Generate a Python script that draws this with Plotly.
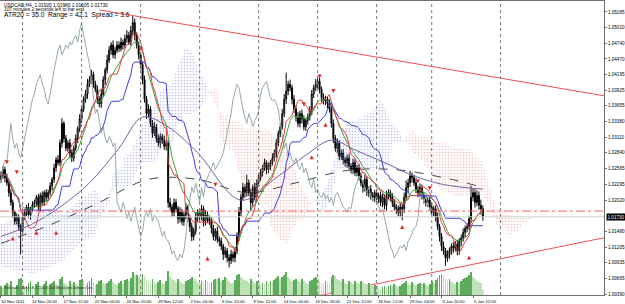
import numpy as np
import pandas as pd
import plotly.graph_objects as go

# ---------------- data ----------------
symbol_header = "USDCAD,H4  1.01920 1.01980 1.01605 1.01730"
timer_text = "107 minutes 2 seconds left to bar end"
stats_text = "ATR20 = 35.0  Range = 42.1  Spread = 3.6"
copyright_text = "MetaTrader - Alpari UK, (C) 2001-2011 MetaQuotes Software Corp."

first_open = 1.0238
close = [
    1.0244, 1.0255, 1.0241, 1.0232, 1.0215, 1.0198, 1.0181, 1.0165, 1.0173, 1.0156, 1.0148, 1.0173,
    1.0181, 1.0190, 1.0176, 1.0187, 1.0194, 1.0198, 1.0207, 1.0190, 1.0210, 1.0198, 1.0215, 1.0207,
    1.0215, 1.0227, 1.0238, 1.0258, 1.0272, 1.0267, 1.0301, 1.0335, 1.0309, 1.0292, 1.0301, 1.0284,
    1.0275, 1.0292, 1.0309, 1.0326, 1.0343, 1.0360, 1.0377, 1.0386, 1.0403, 1.0411, 1.0420, 1.0403,
    1.0394, 1.0377, 1.0369, 1.0386, 1.0411, 1.0428, 1.0445, 1.0462, 1.0471, 1.0454, 1.0462, 1.0471,
    1.0465, 1.0476, 1.0471, 1.0482, 1.0488, 1.0476, 1.0496, 1.0510, 1.0488, 1.0471, 1.0454, 1.0437,
    1.0411, 1.0377, 1.0352, 1.0360, 1.0335, 1.0318, 1.0329, 1.0309, 1.0301, 1.0312, 1.0306, 1.0295,
    1.0301, 1.0198, 1.0190, 1.0181, 1.0198, 1.0187, 1.0170, 1.0181, 1.0165, 1.0176, 1.0190, 1.0170,
    1.0156, 1.0139, 1.0148, 1.0173, 1.0181, 1.0173, 1.0187, 1.0165, 1.0176, 1.0170, 1.0165, 1.0153,
    1.0139, 1.0148, 1.0134, 1.0131, 1.0122, 1.0108, 1.0114, 1.0102, 1.0097, 1.0108, 1.0102, 1.0114,
    1.0139, 1.0181, 1.0207, 1.0224, 1.0215, 1.0232, 1.0215, 1.0198, 1.0224, 1.0207, 1.0232, 1.0241,
    1.0250, 1.0258, 1.0267, 1.0255, 1.0261, 1.0267, 1.0275, 1.0284, 1.0301, 1.0318, 1.0329, 1.0352,
    1.0377, 1.0391, 1.0403, 1.0397, 1.0377, 1.0360, 1.0346, 1.0335, 1.0352, 1.0343, 1.0329, 1.0340,
    1.0346, 1.0357, 1.0386, 1.0397, 1.0403, 1.0408, 1.0394, 1.0380, 1.0374, 1.0377, 1.0369, 1.0360,
    1.0335, 1.0309, 1.0292, 1.0301, 1.0278, 1.0284, 1.0272, 1.0267, 1.0275, 1.0261, 1.0255, 1.0267,
    1.0250, 1.0258, 1.0244, 1.0232, 1.0224, 1.0238, 1.0215, 1.0221, 1.0210, 1.0207, 1.0215, 1.0204,
    1.0210, 1.0198, 1.0207, 1.0193, 1.0210, 1.0215, 1.0207, 1.0198, 1.0190, 1.0187, 1.0181, 1.0190,
    1.0187, 1.0207, 1.0224, 1.0232, 1.0244, 1.0241, 1.0232, 1.0221, 1.0215, 1.0224, 1.0210, 1.0204,
    1.0198, 1.0202, 1.0190, 1.0181, 1.0187, 1.0173, 1.0156, 1.0139, 1.0122, 1.0114, 1.0102, 1.0108,
    1.0114, 1.0122, 1.0119, 1.0125, 1.0114, 1.0131, 1.0136, 1.0146, 1.0153, 1.0156, 1.0170, 1.0207,
    1.0215, 1.0198, 1.0210, 1.0193, 1.0187, 1.0173,
]
upper_wick_pips = [
    8, 6, 5, 7, 4, 6, 5, 3, 6, 4, 5, 8,
    5, 4, 7, 3, 6, 5, 4, 6, 5, 7, 4, 6,
    5, 6, 4, 7, 5, 8, 6, 9, 4, 6, 5, 7,
    6, 5, 7, 4, 8, 6, 5, 7, 9, 6, 8, 5,
    6, 7, 5, 8, 6, 4, 9, 7, 5, 8, 6, 7,
    6, 8, 5, 7, 9, 6, 8, 11, 7, 5, 6, 4,
    5, 7, 6, 8, 5, 6, 9, 5, 7, 6, 5, 8,
    6, 4, 8, 5, 7, 6, 5, 9, 6, 5, 7, 4,
    5, 7, 6, 8, 5, 6, 7, 5, 9, 6, 5, 7,
    6, 5, 8, 5, 6, 4, 7, 5, 6, 8, 5, 6,
    7, 9, 6, 8, 5, 14, 6, 7, 5, 8, 6, 5,
    6, 5, 7, 4, 6, 5, 8, 6, 7, 5, 6, 8,
    9, 32, 6, 8, 5, 7, 6, 9, 5, 7, 6, 5,
    6, 8, 7, 5, 9, 8, 6, 5, 7, 6, 5, 8,
    5, 7, 6, 8, 5, 6, 7, 5, 6, 8, 5, 7,
    6, 5, 7, 6, 5, 8, 6, 5, 7, 6, 5, 6,
    5, 7, 6, 5, 8, 6, 5, 7, 6, 5, 6, 7,
    6, 8, 12, 7, 9, 6, 5, 8, 6, 7, 5, 6,
    7, 5, 6, 8, 5, 6, 7, 5, 6, 8, 5, 7,
    6, 5, 7, 6, 8, 5, 6, 7, 5, 6, 5, 20,
    8, 6, 9, 7, 10, 6,
]
lower_wick_pips = [
    6, 5, 8, 5, 7, 6, 9, 6, 5, 7, 40, 6,
    5, 7, 4, 8, 6, 5, 7, 6, 8, 5, 6, 7,
    6, 5, 8, 6, 7, 5, 6, 8, 7, 5, 6, 8,
    7, 6, 5, 8, 6, 7, 5, 6, 8, 5, 7, 6,
    5, 8, 6, 7, 5, 9, 6, 5, 8, 6, 7, 5,
    6, 5, 8, 6, 7, 5, 6, 7, 9, 6, 8, 7,
    8, 6, 9, 7, 6, 8, 5, 7, 6, 9, 7, 6,
    7, 9, 6, 8, 7, 6, 9, 7, 6, 8, 7, 6,
    9, 8, 7, 6, 8, 7, 6, 9, 7, 8, 6, 9,
    7, 8, 6, 9, 7, 10, 6, 8, 12, 6, 7, 8,
    6, 8, 7, 6, 9, 7, 6, 15, 7, 6, 8, 7,
    6, 7, 5, 8, 6, 7, 5, 6, 8, 6, 7, 5,
    6, 8, 7, 6, 9, 7, 8, 6, 7, 8, 6, 7,
    7, 6, 8, 7, 6, 9, 7, 8, 6, 7, 8, 6,
    7, 8, 6, 9, 7, 6, 8, 7, 9, 6, 7, 8,
    6, 7, 8, 6, 9, 7, 6, 8, 7, 6, 8, 7,
    7, 6, 8, 7, 9, 6, 7, 8, 6, 9, 7, 8,
    20, 7, 6, 8, 7, 9, 6, 7, 8, 6, 7, 8,
    7, 8, 6, 9, 7, 8, 6, 9, 8, 7, 14, 7,
    8, 7, 9, 6, 8, 7, 9, 6, 8, 7, 6, 8,
    7, 9, 6, 8, 10, 7,
]
tick_volume = [
    22, 18, 25, 30, 28, 35, 20, 16, 24, 38, 42, 26,
    18, 22, 30, 34, 25, 20, 28, 32, 24, 19, 27, 33,
    21, 26, 30, 35, 28, 24, 38, 45, 30, 26, 22, 34,
    28, 31, 26, 22, 36, 40, 33, 27, 29, 35, 41, 30,
    24, 28, 33, 37, 30, 26, 29, 35, 38, 31, 27, 24,
    30, 34, 28, 36, 39, 33, 42, 55, 48, 50, 44, 38,
    52, 46, 40, 35, 30, 38, 33, 28, 31, 36, 30, 27,
    33, 58, 45, 40, 36, 32, 38, 35, 30, 27, 33, 36,
    40, 44, 38, 34, 30, 28, 35, 32, 37, 33, 29, 31,
    36, 40, 38, 42, 35, 37, 44, 40, 33, 30, 29, 36,
    48, 52, 45, 40, 36, 34, 30, 38, 33, 29, 35, 31,
    28, 30, 26, 33, 29, 35, 31, 37, 42, 46, 40, 45,
    50, 55, 44, 38, 33, 36, 40, 35, 31, 38, 34, 30,
    28, 33, 37, 41, 45, 38, 33, 30, 28, 34, 31, 27,
    44, 50, 46, 40, 36, 33, 38, 30, 27, 34, 31, 28,
    33, 30, 27, 35, 31, 28, 26, 30, 24, 21, 25, 22,
    18, 15, 20, 23, 19, 22, 25, 21, 26, 24, 20, 23,
    27, 30, 34, 29, 25, 31, 28, 24, 27, 30, 26, 29,
    25, 22, 28, 33, 30, 36, 42, 48, 52, 46, 40, 35,
    38, 33, 30, 28, 32, 29, 35, 38, 42, 45, 50, 56,
    44, 38, 35, 32, 30, 12,
]

# Ichimoku cloud before enough history
early_cloud_bars = [0, 8, 16, 24, 32, 40, 48]
early_span_a = [1.0161, 1.0170, 1.0178, 1.0187, 1.0178, 1.0204, 1.0221]
early_span_b = [1.0087, 1.0080, 1.0075, 1.0084, 1.0098, 1.0127, 1.0144]

# slow moving averages
slow_ma_bars = [0, 25, 50, 75, 100, 125, 150, 175, 200, 225, 245]
slow_ma = [1.0127, 1.0159, 1.0198, 1.0238, 1.0238, 1.0215, 1.0232, 1.0253, 1.0255, 1.0241, 1.0224]
mid_ma_bars = [0, 15, 30, 45, 60, 72, 85, 100, 122, 140, 155, 168, 180, 195, 210, 225, 245]
mid_ma = [1.0139, 1.0159, 1.0190, 1.0232, 1.0292, 1.0346, 1.0329, 1.0284, 1.0202, 1.0241,
          1.0280, 1.0306, 1.0289, 1.0267, 1.0244, 1.0229, 1.0221]

# fractal markers
fractal_up_bars = [3, 8, 71, 109, 154, 162, 169, 212, 218]
fractal_up_price = [1.0264, 1.0247, 1.0461, 1.0225, 1.0365, 1.0413, 1.0388, 1.0231, 1.0219]
fractal_dn_bars = [6, 18, 28, 105, 158, 165, 204, 238]
fractal_dn_price = [1.0139, 1.0149, 1.0149, 1.0104, 1.0280, 1.0336, 1.0159, 1.0106]

# trend lines (bar, price end points)
trend_top_bars = [50, 310]
trend_top_price = [1.0532, 1.0381]
trend_bot_bars = [161, 310]
trend_bot_price = [1.0036, 1.0139]
level_dashdot = 1.0183
bid_price = 1.0173

week_start_bars = [11, 41, 71, 101, 131, 161, 191, 219, 254]
date_label_bars = [0, 16, 32, 48, 64, 80, 96, 112, 128, 144, 160, 176, 192, 208, 224, 240]
date_labels = ["10 Nov 2011", "14 Nov 20:00", "17 Nov 12:00", "22 Nov 04:00", "24 Nov 20:00",
               "29 Nov 12:00", "2 Dec 04:00", "6 Dec 20:00", "9 Dec 12:00", "14 Dec 04:00",
               "16 Dec 20:00", "21 Dec 12:00", "26 Dec 12:00", "29 Dec 04:00", "3 Jan 20:00",
               "5 Jan 12:00"]
price_ticks = [1.05285, 1.05010, 1.04740, 1.04470, 1.04195, 1.03925, 1.03655, 1.03380, 1.03110,
               1.02840, 1.02565, 1.02295, 1.02020, 1.01480, 1.01205, 1.00935, 1.00665, 1.00390]

# ---------------- derived series ----------------
n = min(len(close), len(upper_wick_pips), len(lower_wick_pips), len(tick_volume))
bars = np.arange(n)
c = np.array(close[:n])
o = np.r_[first_open, c[:-1]]
h = np.maximum(o, c) + np.array(upper_wick_pips[:n]) * 0.0001
l = np.minimum(o, c) - np.array(lower_wick_pips[:n]) * 0.0001
hs, ls = pd.Series(h), pd.Series(l)
tenkan = ((hs.rolling(9, min_periods=1).max() + ls.rolling(9, min_periods=1).min()) / 2).values
kijun = ((hs.rolling(26, min_periods=1).max() + ls.rolling(26, min_periods=1).min()) / 2).values
sa = (tenkan + kijun) / 2
sb = ((hs.rolling(52, min_periods=1).max() + ls.rolling(52, min_periods=1).min()) / 2).values
ema = pd.Series(c).ewm(span=12, adjust=False).mean().values

keep = bars >= 26
cx = list(early_cloud_bars) + list(bars[keep] + 26)
ca = list(early_span_a) + list(sa[keep])
cb = list(early_span_b) + list(sb[keep])

fig = go.Figure()

# cloud polygons split where spans cross
def add_poly(xs, aa, bb, bull):
    col = "rgb(125,132,228)" if bull else "rgb(242,135,135)"
    fig.add_trace(go.Scatter(
        x=xs + xs[::-1], y=aa + bb[::-1], mode="lines", fill="toself",
        line=dict(width=0), fillcolor="rgba(0,0,0,0)",
        fillpattern=dict(shape=".", fgcolor=col, bgcolor="rgba(0,0,0,0)", size=3, solidity=0.25),
        hoverinfo="skip", showlegend=False))

px_, pa, pb = [cx[0]], [ca[0]], [cb[0]]
sign = ca[0] >= cb[0]
for k in range(1, len(cx)):
    s = ca[k] >= cb[k]
    if s != sign:
        d0, d1 = ca[k - 1] - cb[k - 1], ca[k] - cb[k]
        t = d0 / (d0 - d1)
        xc = cx[k - 1] + t * (cx[k] - cx[k - 1])
        yc = ca[k - 1] + t * (ca[k] - ca[k - 1])
        px_.append(xc); pa.append(yc); pb.append(yc)
        add_poly(px_, pa, pb, sign)
        px_, pa, pb = [xc], [yc], [yc]
        sign = s
    px_.append(cx[k]); pa.append(ca[k]); pb.append(cb[k])
add_poly(px_, pa, pb, sign)

# volume
vol = np.array(tick_volume[:n])
vcol = ["rgb(92,172,92)" if (i == 0 or vol[i] >= vol[i - 1]) else "rgb(190,225,182)" for i in range(n)]
fig.add_trace(go.Bar(x=bars, y=vol, yaxis="y2", marker=dict(color=vcol, line=dict(width=0)),
                     width=0.4, hoverinfo="skip", showlegend=False))

for x0 in week_start_bars:
    fig.add_vline(x=x0, line=dict(color="rgb(120,120,120)", width=1, dash="dot"))
fig.add_hline(y=level_dashdot, line=dict(color="rgb(240,100,100)", width=1, dash="dashdot"))
fig.add_hline(y=bid_price, line=dict(color="rgb(200,212,200)", width=1))

# slow MAs
fig.add_trace(go.Scatter(x=slow_ma_bars, y=slow_ma, mode="lines", line=dict(color="rgb(70,70,70)", width=1, dash="dash", shape="spline"), showlegend=False, hoverinfo="skip"))
fig.add_trace(go.Scatter(x=mid_ma_bars, y=mid_ma, mode="lines", line=dict(color="rgb(110,100,165)", width=1, shape="spline"), showlegend=False, hoverinfo="skip"))
# chikou
fig.add_trace(go.Scatter(x=bars - 26, y=c, mode="lines", line=dict(color="rgb(150,170,170)", width=1), showlegend=False, hoverinfo="skip"))
# ema / tenkan / kijun
fig.add_trace(go.Scatter(x=bars, y=ema, mode="lines", line=dict(color="rgb(60,165,60)", width=1), showlegend=False, hoverinfo="skip"))
fig.add_trace(go.Scatter(x=bars, y=kijun, mode="lines", line=dict(color="rgb(60,60,230)", width=1), showlegend=False, hoverinfo="skip"))
fig.add_trace(go.Scatter(x=bars, y=tenkan, mode="lines", line=dict(color="rgb(228,60,60)", width=1), showlegend=False, hoverinfo="skip"))

# candles
fig.add_trace(go.Candlestick(x=bars, open=o, high=h, low=l, close=c,
                             increasing=dict(line=dict(color="black", width=1), fillcolor="white"),
                             decreasing=dict(line=dict(color="black", width=1), fillcolor="black"),
                             whiskerwidth=0, showlegend=False, hoverinfo="skip"))

# trend lines
fig.add_trace(go.Scatter(x=trend_top_bars, y=trend_top_price, mode="lines", line=dict(color="rgb(240,80,80)", width=1), showlegend=False, hoverinfo="skip"))
fig.add_trace(go.Scatter(x=trend_bot_bars, y=trend_bot_price, mode="lines", line=dict(color="rgb(240,80,80)", width=1), showlegend=False, hoverinfo="skip"))

# fractals
fig.add_trace(go.Scatter(x=fractal_up_bars, y=fractal_up_price, mode="markers", marker=dict(symbol="arrow-down", size=4, color="rgb(235,30,30)"), showlegend=False, hoverinfo="skip"))
fig.add_trace(go.Scatter(x=fractal_dn_bars, y=fractal_dn_price, mode="markers", marker=dict(symbol="arrow-up", size=4, color="rgb(235,30,30)"), showlegend=False, hoverinfo="skip"))

font_family = "Liberation Sans, Arial, sans-serif"
ann = [
    dict(text=symbol_header, x=0.003, y=0.985, font=dict(size=4.8, color="black")),
    dict(text=timer_text, x=0.003, y=0.971, font=dict(size=4.8, color="black")),
    dict(text=stats_text, x=0.003, y=0.952, font=dict(size=6.6, color="black")),
    dict(text=copyright_text, x=0.003, y=0.025, font=dict(size=3.0, color="rgb(40,40,40)")),
]
annotations = [dict(a, xref="paper", yref="paper", xanchor="left", yanchor="middle", showarrow=False) for a in ann]
annotations.append(dict(text="%.5f" % bid_price, x=1.0, xref="paper", y=bid_price, yref="y",
                        xanchor="left", yanchor="middle", showarrow=False, bgcolor="black",
                        font=dict(size=4.6, color="white"), borderpad=0.5, xshift=2))

fig.update_layout(
    width=625, height=304, margin=dict(l=0, r=19, t=0, b=7),
    paper_bgcolor="white", plot_bgcolor="white",
    font=dict(family=font_family, color="black"),
    showlegend=False, bargap=0,
    annotations=annotations,
    xaxis=dict(range=[-0.5, 306.6], showgrid=False, zeroline=False, rangeslider=dict(visible=False),
               tickmode="array", tickvals=date_label_bars, ticktext=date_labels,
               tickfont=dict(size=4.2, color="black"), ticks="outside", ticklen=2,
               tickcolor="rgb(110,110,110)", showline=True, linecolor="rgb(110,110,110)",
               linewidth=1, mirror=True, ticklabelshift=12, ticklabelstandoff=0),
    yaxis=dict(range=[1.00374, 1.05474], side="right", showgrid=False, zeroline=False,
               tickmode="array", tickvals=price_ticks, ticktext=["%.5f" % v for v in price_ticks],
               tickfont=dict(size=4.6, color="black"), ticks="outside", ticklen=2,
               tickcolor="rgb(110,110,110)", showline=True, linecolor="rgb(110,110,110)", linewidth=1),
    yaxis2=dict(overlaying="y", range=[0, max(tick_volume) * 297 / 24], visible=False),
)

fig.write_html("out.html")
